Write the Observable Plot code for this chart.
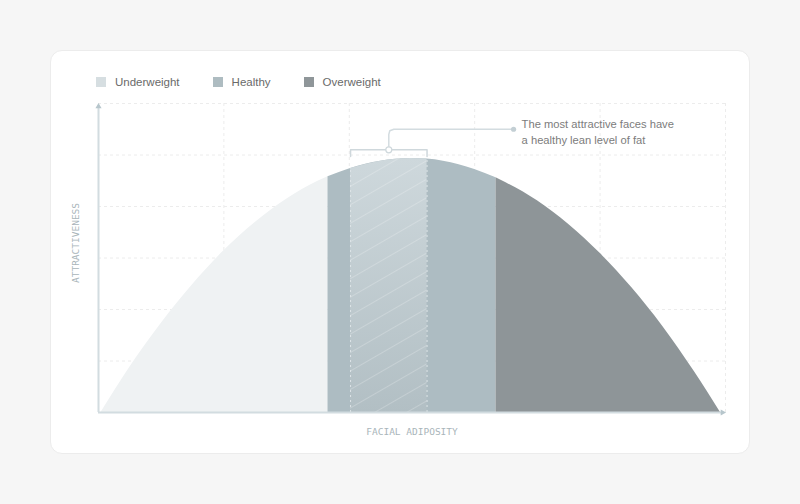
<!DOCTYPE html>
<html><head><meta charset="utf-8">
<script src="https://cdn.jsdelivr.net/npm/d3@7"></script>
<script src="https://cdn.jsdelivr.net/npm/@observablehq/plot@0.6"></script>
<style>
html,body{margin:0;padding:0;background:#f6f6f6;}
#wrap{position:relative;width:800px;height:504px;overflow:hidden;}
#card{position:absolute;left:50px;top:50px;width:700px;height:404px;box-sizing:border-box;background:#fff;border:1px solid #ececec;border-radius:12px;}
#legend{position:absolute;left:96px;top:76px;height:12px;display:flex;align-items:center;gap:33px;font-family:"Liberation Sans",Arial,sans-serif;font-size:11.5px;color:#6a6a6a;}
.item{display:flex;align-items:center;line-height:12px;}
.sw{width:10px;height:10px;margin-right:9px;}
#chart{position:absolute;left:0;top:0;}
</style></head>
<body><div id="wrap"><div id="card"></div><div id="legend"></div><div id="chart"></div></div>
<script>
// ---- data ----
const categories = ["Underweight", "Healthy", "Overweight"];
const categoryColors = ["#eff2f3", "#adbcc2", "#8e9598"];
const legendColors = ["#d6dee1", "#aebcc1", "#8f9699"];
const categoryStart = [0.02, 1.83, 3.17];
const categoryEnd = [1.83, 3.17, 4.96];
const highlightRange = [2.01, 2.62];
const curveX = [0.02, 0.25, 0.5, 0.75, 1.0, 1.25, 1.5, 1.75, 1.83, 2.01, 2.25, 2.49, 2.62, 2.75, 3.0, 3.17, 3.25, 3.5, 3.75, 4.0, 4.25, 4.5, 4.75, 4.96];
const curveY = [0, 0.88, 1.73, 2.48, 3.14, 3.69, 4.14, 4.49, 4.58, 4.74, 4.88, 4.93, 4.92, 4.88, 4.72, 4.56, 4.46, 4.11, 3.65, 3.09, 2.43, 1.67, 0.80, 0];
const xGrid = [1, 2, 3, 4, 5];
const yGrid = [1, 2, 3, 4, 5, 6];
const xLabel = "FACIAL ADIPOSITY";
const yLabel = "ATTRACTIVENESS";
const noteLines = ["The most attractive faces have", "a healthy lean level of fat"];
// annotation anchor (data units)
const bracketY = 5.1, bracketTickY = 4.97, noteY = 5.5, noteX = 3.31;

// ---- build ----
const pts = curveX.map((x, i) => ({x, y: curveY[i]}));
const bands = categories.map((c, i) => ({
  c, color: categoryColors[i],
  pts: pts.filter(p => p.x >= categoryStart[i] && p.x <= categoryEnd[i])
}));
const hlPts = pts.filter(p => p.x >= highlightRange[0] && p.x <= highlightRange[1]);
const hlEdges = hlPts.filter(p => p.x === highlightRange[0] || p.x === highlightRange[1]);
const midX = (highlightRange[0] + highlightRange[1]) / 2;

// legend
const legend = document.getElementById("legend");
categories.forEach((c, i) => {
  const it = document.createElement("div"); it.className = "item";
  it.innerHTML = `<span class="sw" style="background:${legendColors[i]}"></span><span>${c}</span>`;
  legend.appendChild(it);
});

const axisColor = "#d2dce0";
const gridStyle = {stroke: "#ececec", strokeWidth: 1, strokeDasharray: "3,3"};
const mono = "'DejaVu Sans Mono', 'Liberation Mono', monospace";

const marks = [
  Plot.ruleY(yGrid, {y: d => d, x1: 0, x2: 5, ...gridStyle}),
  Plot.ruleX(xGrid, {x: d => d, y1: 0, y2: 6, ...gridStyle}),
  ...bands.map(b => Plot.areaY(b.pts, {x: "x", y: "y", fill: b.color, curve: "monotone-x"})),
  Plot.areaY(hlPts, {x: "x", y: "y", fill: "url(#hlGrad)", curve: "monotone-x"}),
  Plot.areaY(hlPts, {x: "x", y: "y", fill: "url(#hatch)", curve: "monotone-x"}),
  Plot.ruleX(hlEdges, {x: "x", y1: 0, y2: "y", stroke: "#dde4e7", strokeWidth: 1, strokeDasharray: "2,3"}),
  // bracket
  Plot.line([
    {x: highlightRange[0], y: bracketTickY}, {x: highlightRange[0], y: bracketY},
    {x: highlightRange[1], y: bracketY}, {x: highlightRange[1], y: bracketTickY}
  ], {x: "x", y: "y", stroke: "#cfd8dc", strokeWidth: 1.5}),
  // connector
  Plot.line([
    {x: midX, y: bracketY + 0.06}, {x: midX, y: noteY - 0.1},
    {x: midX + 0.008, y: noteY - 0.03}, {x: midX + 0.04, y: noteY}, {x: noteX, y: noteY}
  ], {x: "x", y: "y", stroke: "#d3dce0", strokeWidth: 1.5}),
  Plot.dot([{x: midX, y: bracketY}], {x: "x", y: "y", r: 3, fill: "#fff", stroke: "#cfd8dc", strokeWidth: 1.2}),
  Plot.dot([{x: noteX, y: noteY}], {x: "x", y: "y", r: 2.6, fill: "#c3cfd4", stroke: "none"}),
  Plot.text([{x: noteX, y: noteY, t: noteLines.join("\n")}], {
    x: "x", y: "y", text: "t", dx: 8, dy: 2, textAnchor: "start", lineAnchor: "middle",
    lineHeight: 1.43, fontSize: 11.2, fill: "#7c7c7c", fontFamily: "'Liberation Sans', Arial, sans-serif"
  }),
  // axes
  Plot.ruleX([0], {x: d => d, y1: 0, y2: 5.95, stroke: axisColor, strokeWidth: 2}),
  Plot.ruleY([0], {y: d => d, x1: 0, x2: 4.98, stroke: axisColor, strokeWidth: 2}),
  Plot.dot([{x: 0, y: 6}], {x: "x", y: "y", symbol: "triangle", r: 2.3, fill: "#b7c6cc", stroke: "none", dy: 3}),
  Plot.dot([{x: 5, y: 0}], {x: "x", y: "y", symbol: "triangle", r: 2.3, rotate: 90, fill: "#b7c6cc", stroke: "none", dx: -3}),
  Plot.text([xLabel], {frameAnchor: "bottom", dy: 19, textAnchor: "middle", lineAnchor: "middle",
    fontSize: 9.5, fontFamily: mono, fill: "#a9b5ba"}),
  Plot.text([yLabel], {frameAnchor: "left", dx: -23, dy: -15, rotate: -90, textAnchor: "middle", lineAnchor: "middle",
    fontSize: 9.5, fontFamily: mono, fill: "#a9b5ba"})
];

const svg = Plot.plot({
  width: 800, height: 504,
  marginLeft: 98, marginRight: 75, marginTop: 103, marginBottom: 92,
  x: {domain: [0, 5], axis: null},
  y: {domain: [0, 6], axis: null},
  style: {background: "transparent", overflow: "visible"},
  marks
});

const defs = d3.select(svg).insert("defs", ":first-child");
const g = defs.append("linearGradient").attr("id", "hlGrad").attr("x1", 0).attr("y1", 0).attr("x2", 0).attr("y2", 1);
g.append("stop").attr("offset", "0%").attr("stop-color", "#ced8dc");
g.append("stop").attr("offset", "100%").attr("stop-color", "#b2bfc4");
const p = defs.append("pattern").attr("id", "hatch").attr("patternUnits", "userSpaceOnUse")
  .attr("width", 16).attr("height", 16).attr("patternTransform", "rotate(-30)");
p.append("line").attr("x1", 0).attr("y1", 0.5).attr("x2", 16).attr("y2", 0.5)
  .attr("stroke", "#ffffff").attr("stroke-opacity", 0.22).attr("stroke-width", 1);

document.getElementById("chart").appendChild(svg);
</script>
</body></html>
